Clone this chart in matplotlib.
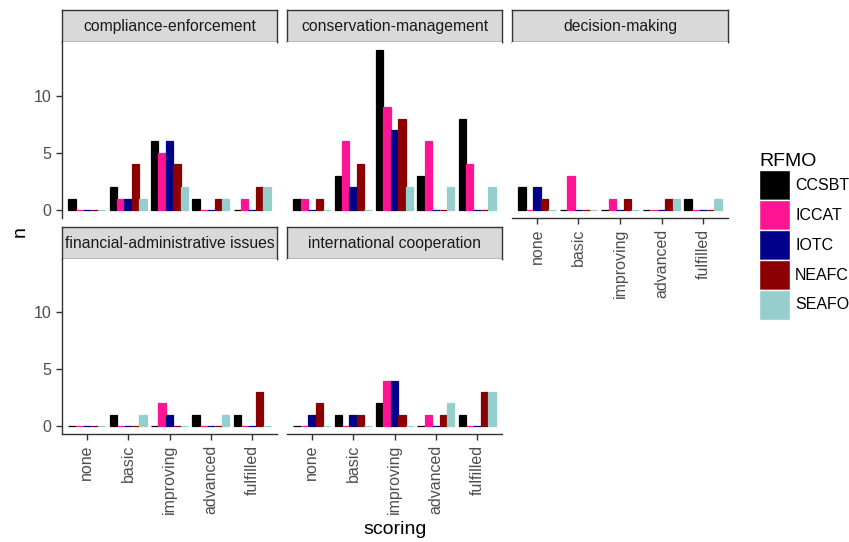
import matplotlib.pyplot as plt
from matplotlib.patches import Patch

plt.rcParams['font.family'] = ['Liberation Sans', 'DejaVu Sans']

scoring = ["none", "basic", "improving", "advanced", "fulfilled"]
rfmo = ["CCSBT", "ICCAT", "IOTC", "NEAFC", "SEAFO"]
rfmo_colors = ["#000000", "#FF1493", "#00008B", "#8B0000", "#96CDCD"]

# counts: one row per scoring level, one column per RFMO
compliance_enforcement = [[1, 0, 0, 0, 0],
                          [2, 1, 1, 4, 1],
                          [6, 5, 6, 4, 2],
                          [1, 0, 0, 1, 1],
                          [0, 1, 0, 2, 2]]
conservation_management = [[1, 1, 0, 1, 0],
                           [3, 6, 2, 4, 0],
                           [14, 9, 7, 8, 2],
                           [3, 6, 0, 0, 2],
                           [8, 4, 0, 0, 2]]
decision_making = [[2, 0, 2, 1, 0],
                   [0, 3, 0, 0, 0],
                   [0, 1, 0, 1, 0],
                   [0, 0, 0, 1, 1],
                   [1, 0, 0, 0, 1]]
financial_admin = [[0, 0, 0, 0, 0],
                   [1, 0, 0, 0, 1],
                   [0, 2, 1, 0, 0],
                   [1, 0, 0, 0, 1],
                   [1, 0, 0, 3, 0]]
intl_cooperation = [[0, 0, 1, 2, 0],
                    [1, 0, 1, 1, 0],
                    [2, 4, 4, 1, 0],
                    [0, 1, 0, 1, 2],
                    [1, 0, 0, 3, 3]]

facets = [
    ("compliance-enforcement", compliance_enforcement),
    ("conservation-management", conservation_management),
    ("decision-making", decision_making),
    ("financial-administrative issues", financial_admin),
    ("international cooperation", intl_cooperation),
]

W, H = 849, 542
fig = plt.figure(figsize=(W / 100, H / 100), dpi=100)


def px(x0, y0, x1, y1):
    return [x0 / W, 1 - y1 / H, (x1 - x0) / W, (y1 - y0) / H]


col_x = [(62, 277), (287, 502), (512, 728)]
row_y = [(10, 42, 218), (227, 259, 434)]
axis_col = "#333333"
tick_col = "#4D4D4D"
bw = 0.18

for k, (name, counts) in enumerate(facets):
    r, c = divmod(k, 3)
    x0, x1 = col_x[c]
    s0, p0, p1 = row_y[r]

    strip = fig.add_axes(px(x0, s0, x1, p0))
    strip.set_facecolor("#D9D9D9")
    strip.set_xticks([])
    strip.set_yticks([])
    for sp in strip.spines.values():
        sp.set_color(axis_col)
        sp.set_linewidth(1.0)
    strip.text(0.5, 0.5, name, ha="center", va="center", fontsize=11.3,
               color="#1A1A1A", transform=strip.transAxes)

    ax = fig.add_axes(px(x0, p0, x1, p1))
    for j, lab in enumerate(rfmo):
        xs = [i + 1 + (j - 2) * bw for i in range(len(scoring))]
        hs = [row[j] for row in counts]
        ax.bar(xs, hs, width=bw, color=rfmo_colors[j],
               edgecolor=rfmo_colors[j], linewidth=0.9)
    ax.set_xlim(0.4, 5.6)
    ax.set_ylim(-0.7, 14.7)
    ax.spines["top"].set_visible(False)
    ax.spines["right"].set_visible(False)
    for sp in ("left", "bottom"):
        ax.spines[sp].set_color(axis_col)
        ax.spines[sp].set_linewidth(1.0)
    ax.tick_params(colors=axis_col, labelcolor=tick_col, labelsize=11.5,
                   length=4, width=1.0)

    if c == 0:
        ax.set_yticks([0, 5, 10])
    else:
        ax.spines["left"].set_visible(False)
        ax.set_yticks([])

    # x axis only where no panel sits below
    if k >= 2:
        ax.set_xticks(range(1, 6))
        ax.set_xticklabels(scoring, rotation=90)
    else:
        ax.spines["bottom"].set_visible(False)
        ax.set_xticks([])

fig.text(20 / W, 1 - 232 / H, "n", rotation=90, ha="center", va="center",
         fontsize=14)
fig.text(395 / W, 1 - 530 / H, "scoring", ha="center", va="center",
         fontsize=14)

handles = [Patch(facecolor=col, edgecolor="white", linewidth=1.0)
           for col in rfmo_colors]
fig.legend(handles, rfmo, title="RFMO", loc="upper left",
           bbox_to_anchor=(748 / W, 1 - 142 / H), frameon=False,
           fontsize=11.5, title_fontsize=14, handlelength=1.95,
           handleheight=2.5, labelspacing=0.0, handletextpad=0.3,
           borderpad=0.2, alignment="left")

fig.savefig("out.png", dpi=100)
